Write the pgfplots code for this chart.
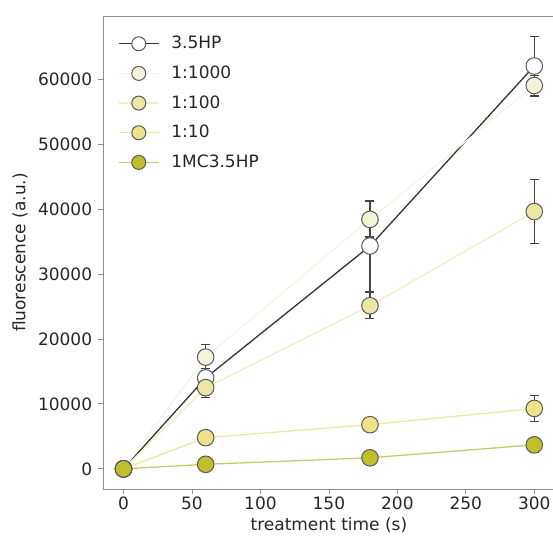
\documentclass[border=0pt]{standalone}
\usepackage{fontspec}
\setmainfont{DejaVu Sans}
\usepackage{pgfplots}
\pgfplotsset{compat=1.18}
\usepackage{pgfplotstable}
\definecolor{spine}{HTML}{8E8E8E}
\definecolor{txt}{HTML}{262626}
\definecolor{errc}{HTML}{444444}
\definecolor{edge}{HTML}{595959}
\definecolor{cHP}{HTML}{333333}
\definecolor{fK}{HTML}{F3F3DA}
\definecolor{fH}{HTML}{EDE7A6}
\definecolor{fT}{HTML}{EFE38A}
\definecolor{fM}{HTML}{BFBF2E}
\definecolor{lK}{HTML}{F4F4E4}
\definecolor{lH}{HTML}{EFEFC4}
\definecolor{lT}{HTML}{E9E9A4}
\definecolor{lM}{HTML}{C9C96A}

% x  y  err
\pgfplotstableread{
x y e
0 0 0
60 14000 1500
180 34300 7000
300 62000 4500
}\hp
\pgfplotstableread{
x y e
0 0 0
60 17200 2000
180 38400 2700
300 59000 1600
}\thousand
\pgfplotstableread{
x y e
0 0 0
60 12500 1500
180 25100 2000
300 39600 4900
}\hundred
\pgfplotstableread{
x y e
0 0 0
60 4800 600
180 6800 1000
300 9300 2000
}\ten
\pgfplotstableread{
x y e
0 0 0
60 700 300
180 1700 400
300 3700 1100
}\mc

\begin{document}
\fontsize{17}{20}\selectfont
\begin{tikzpicture}
\begin{axis}[
  scale only axis,
  width=451.8pt, height=473pt,
  xmin=-15, xmax=315, ymin=-3100, ymax=69700,
  xtick={0,50,...,300}, ytick={0,10000,...,60000},
  scaled y ticks=false,
  /pgf/number format/1000 sep={},
  /pgf/number format/assume math mode=true,
  tick pos=left, tick align=outside, major tick length=5pt,
  axis line style={spine, line width=0.8pt},
  tick style={spine, line width=0.8pt},
  ticklabel style={font=\fontsize{17}{20}\selectfont, text=txt},
  xticklabel style={yshift=3pt},
  xlabel={treatment time (s)}, ylabel={fluorescence (a.u.)},
  every axis x label/.style={at={(axis description cs:0.5,0)}, yshift=-36pt, anchor=center, font=\fontsize{17}{20}\selectfont, text=txt},
  every axis y label/.style={at={(axis description cs:0,0.5)}, xshift=-83pt, rotate=90, anchor=center, font=\fontsize{17}{20}\selectfont, text=txt},
  legend style={draw=none, fill=none, at={(axis description cs:0.033,0.962)}, anchor=north west,
    font=\fontsize{17}{20}\selectfont, text=txt, row sep=10.5pt, column sep=10pt, inner sep=0pt},
  legend cell align=left,
  legend image code/.code={
    \draw[mark repeat=2, mark phase=2, #1, mark size=7pt]
      plot coordinates {(0pt,0pt) (20pt,0pt) (40pt,0pt)};
  },
  error bars/y dir=both, error bars/y explicit,
  error bars/error bar style={errc, line width=1.2pt},
  error bars/error mark options={rotate=90, errc, mark size=4.5pt, line width=1.2pt},
]
\addplot[cHP, line width=1.3pt, mark=*, mark size=8.3pt,
  mark options={draw=edge, fill=white, line width=1pt}]
  table[x=x, y=y, y error=e] {\hp};
\addlegendentry{3.5HP}
\addplot[lK, line width=1.3pt, mark=*, mark size=8.3pt,
  mark options={draw=edge, fill=fK, line width=1pt}]
  table[x=x, y=y, y error=e] {\thousand};
\addlegendentry{1:1000}
\addplot[lH, line width=1.3pt, mark=*, mark size=8.3pt,
  mark options={draw=edge, fill=fH, line width=1pt}]
  table[x=x, y=y, y error=e] {\hundred};
\addlegendentry{1:100}
\addplot[lT, line width=1.3pt, mark=*, mark size=8.3pt,
  mark options={draw=edge, fill=fT, line width=1pt}]
  table[x=x, y=y, y error=e] {\ten};
\addlegendentry{1:10}
\addplot[lM, line width=1.3pt, mark=*, mark size=8.3pt,
  mark options={draw=edge, fill=fM, line width=1pt}]
  table[x=x, y=y, y error=e] {\mc};
\addlegendentry{1MC3.5HP}
\end{axis}
\pgfresetboundingbox
\path[use as bounding box] (-103pt,-52pt) rectangle (450pt,489pt);
\end{tikzpicture}
\end{document}
